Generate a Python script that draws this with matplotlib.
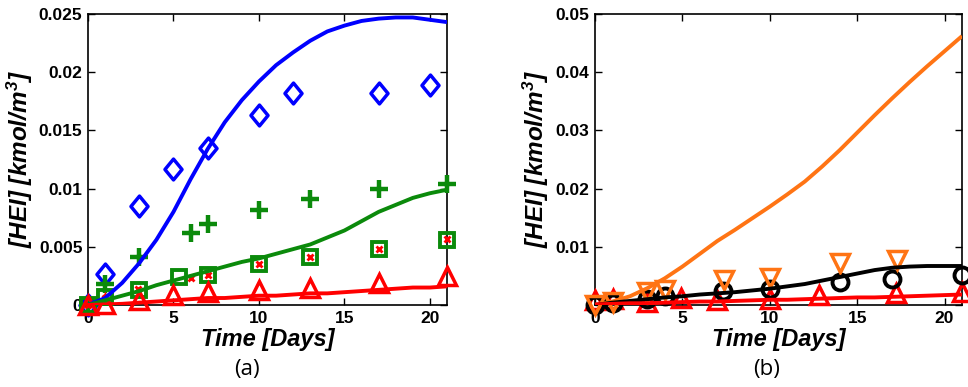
import matplotlib
matplotlib.use("Agg")
import matplotlib.pyplot as plt
from matplotlib.path import Path

plt.rcParams['font.family'] = ['Liberation Sans', 'DejaVu Sans']
plt.rcParams['mathtext.fontset'] = 'custom'
plt.rcParams['mathtext.bf'] = 'Liberation Sans:bold:italic'
plt.rcParams['mathtext.it'] = 'Liberation Sans:italic'
plt.rcParams['mathtext.rm'] = 'Liberation Sans'

# ---------------- panel (a) data ----------------
days_model = list(range(22))

a_blue_model = [0, 0.0006, 0.0019, 0.0036, 0.0056, 0.0080, 0.0108, 0.0134, 0.0157, 0.0176,
                0.0192, 0.0206, 0.0217, 0.0227, 0.0235, 0.0240, 0.0244, 0.0246, 0.0247,
                0.0247, 0.0245, 0.0243]
a_green_model = [0, 0.0004, 0.0008, 0.0012, 0.0017, 0.0021, 0.0025, 0.0029, 0.0033, 0.0037,
                 0.0040, 0.0044, 0.0048, 0.0052, 0.0058, 0.0064, 0.0072, 0.0080, 0.0086,
                 0.0092, 0.0096, 0.0099]
a_red_model = [0, 0.00005, 0.0001, 0.0002, 0.0003, 0.0004, 0.0005, 0.0006, 0.0006, 0.0007,
               0.0008, 0.0008, 0.0009, 0.0010, 0.0010, 0.0011, 0.0012, 0.0013, 0.0014,
               0.0015, 0.0015, 0.0016]

a_diamond_t = [0, 1, 3, 5, 7, 10, 12, 17, 20]
a_diamond_y = [0, 0.0027, 0.0085, 0.0117, 0.0135, 0.0163, 0.0182, 0.0182, 0.0189]

a_plus_t = [0, 1, 3, 6, 7, 10, 13, 17, 21]
a_plus_y = [0, 0.0018, 0.0041, 0.0062, 0.0070, 0.0082, 0.0091, 0.0100, 0.0104]

a_square_t = [0, 1, 3, 5.3, 7, 10, 13, 17, 21]
a_square_y = [0, 0.0007, 0.0013, 0.0024, 0.0026, 0.0035, 0.0041, 0.0048, 0.0056]

a_cross_t = [0, 1, 2.9, 6, 7, 10, 13, 17, 21]
a_cross_y = [0, 0.0006, 0.0014, 0.0023, 0.0026, 0.0035, 0.0041, 0.0048, 0.0057]

a_tri_t = [0, 1, 3, 5, 7, 10, 13, 17, 21]
a_tri_y = [0, 0.0001, 0.0004, 0.0009, 0.0011, 0.0013, 0.0015, 0.0019, 0.0025]

# ---------------- panel (b) data ----------------
b_orange_model = [0, 0.0006, 0.0015, 0.0029, 0.0046, 0.0066, 0.0088, 0.0110, 0.0129, 0.0149,
                  0.0169, 0.0190, 0.0212, 0.0238, 0.0266, 0.0296, 0.0326, 0.0355, 0.0383,
                  0.0410, 0.0436, 0.0462]
b_black_model = [0, 0.0004, 0.0007, 0.0010, 0.0013, 0.0015, 0.0018, 0.0020, 0.0022, 0.0025,
                 0.0028, 0.0032, 0.0036, 0.0042, 0.0048, 0.0054, 0.0060, 0.0064, 0.0066,
                 0.0067, 0.0067, 0.0067]
b_red_model = [0.0001, 0.0002, 0.0003, 0.0003, 0.0004, 0.0005, 0.0006, 0.0006, 0.0007, 0.0008,
               0.0009, 0.0009, 0.0010, 0.0011, 0.0012, 0.0013, 0.0013, 0.0014, 0.0015,
               0.0016, 0.0017, 0.0018]

b_circle_t = [0, 1, 3, 4, 7.3, 10, 14, 17, 21]
b_circle_y = [0, 0.0004, 0.0011, 0.0015, 0.0024, 0.0027, 0.0039, 0.0044, 0.0052]

b_tridown_t = [0, 1, 3, 4, 7.4, 10, 14, 17.3]
b_tridown_y = [0, 0.0005, 0.0022, 0.0026, 0.0043, 0.0046, 0.0072, 0.0077]

b_triup_t = [0, 1, 3, 4.9, 7, 10, 12.8, 17.2, 21]
b_triup_y = [0.0009, 0.0010, 0.0006, 0.0012, 0.0009, 0.0011, 0.0017, 0.0020, 0.0023]

a_yticks = [0, 0.005, 0.01, 0.015, 0.02, 0.025]
a_yticklabels = ['0', '0.005', '0.01', '0.015', '0.02', '0.025']
b_yticks = [0, 0.01, 0.02, 0.03, 0.04, 0.05]
b_yticklabels = ['', '0.01', '0.02', '0.03', '0.04', '0.05']
xticks = [0, 5, 10, 15, 20]

BLUE = '#0000ff'
GREEN = '#0b8a0b'
RED = '#ff0000'
ORANGE = '#ff7414'
BLACK = '#000000'

diamond = Path([(0, 1), (0.82, 0), (0, -1), (-0.82, 0), (0, 1)],
               [Path.MOVETO, Path.LINETO, Path.LINETO, Path.LINETO, Path.CLOSEPOLY])

fig = plt.figure(figsize=(9.68, 3.87), dpi=100)
ax_a = fig.add_axes([0.0909, 0.2119, 0.3709, 0.752])
ax_b = fig.add_axes([0.6147, 0.2119, 0.3791, 0.752])

lw = 2.8
mk = dict(linestyle='none', clip_on=False, zorder=3)
line_kw = dict(lw=lw, zorder=4, solid_joinstyle='round', solid_capstyle='butt')

# panel (a)
ax_a.plot(a_diamond_t, a_diamond_y, marker=diamond, ms=15, mfc='none', mec=BLUE, mew=2.5, **mk)
ax_a.plot(a_plus_t, a_plus_y, marker='+', ms=12.5, mec=GREEN, mew=3.2, **mk)
ax_a.plot(a_square_t, a_square_y, marker='s', ms=10, mfc='none', mec=GREEN, mew=2.8, **mk)
ax_a.plot(a_cross_t, a_cross_y, marker='x', ms=5, mec=RED, mew=2, **mk)
ax_a.plot(a_tri_t, a_tri_y, marker='^', ms=13.5, mfc='none', mec=RED, mew=2.5, **mk)
ax_a.plot(days_model, a_blue_model, color=BLUE, **line_kw)
ax_a.plot(days_model, a_green_model, color=GREEN, **line_kw)
ax_a.plot(days_model, a_red_model, color=RED, **line_kw)
ax_a.set_ylim(0, 0.025)
ax_a.set_yticks(a_yticks)
ax_a.set_yticklabels(a_yticklabels)

# panel (b)
ax_b.plot(b_triup_t, b_triup_y, marker='^', ms=13.5, mfc='none', mec=RED, mew=2.5, **mk)
ax_b.plot(b_circle_t, b_circle_y, marker='o', ms=11.5, mfc='none', mec=BLACK, mew=2.8, **mk)
ax_b.plot(b_tridown_t, b_tridown_y, marker='v', ms=13.5, mfc='none', mec=ORANGE, mew=2.5, **mk)
ax_b.plot(days_model, b_orange_model, color=ORANGE, **line_kw)
ax_b.plot(days_model, b_black_model, color=BLACK, **line_kw)
ax_b.plot(days_model, b_red_model, color=RED, **line_kw)
ax_b.set_ylim(0, 0.05)
ax_b.set_yticks(b_yticks)
ax_b.set_yticklabels(b_yticklabels)

for ax, cap, shift in ((ax_a, '(a)', 0.021), (ax_b, '(b)', 0.012)):
    ax.set_xlim(0, 21)
    ax.set_xticks(xticks)
    ax.tick_params(direction='in', length=5, width=1, top=True, right=True,
                   labelsize=12.5, pad=4)
    for lab in ax.get_xticklabels() + ax.get_yticklabels():
        lab.set_fontweight('bold')
    for sp in ax.spines.values():
        sp.set_linewidth(1.2)
    ax.set_xlabel('Time [Days]', fontsize=17, fontweight='bold', style='italic',
                  labelpad=2)
    ax.set_ylabel('[HEI] [kmol/m$^\\mathbf{3}$]', fontsize=17.5, fontweight='bold',
                  style='italic', labelpad=3)
    bb = ax.get_position()
    fig.text(bb.x0 + bb.width / 2 - shift, 0.045, cap,
             ha='center', va='center', fontsize=16, family='Open Sans')

fig.savefig('out.png', dpi=100)
